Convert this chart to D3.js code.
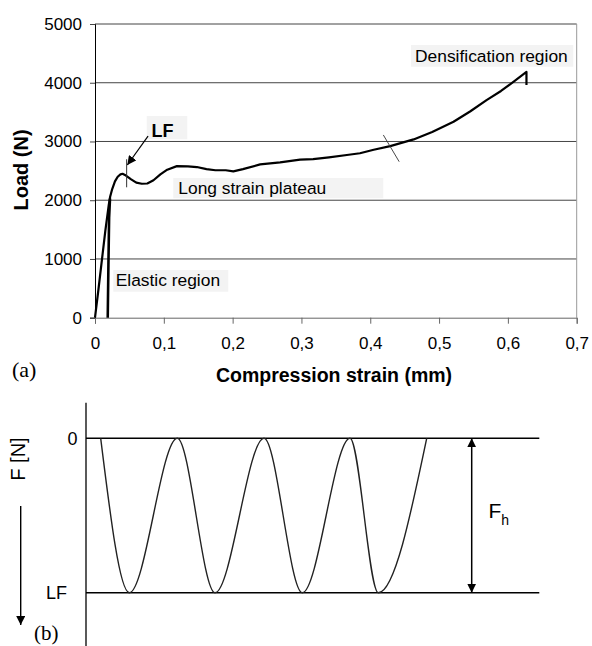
<!DOCTYPE html>
<html>
<head>
<meta charset="utf-8">
<script src="https://cdn.jsdelivr.net/npm/d3@7"></script>
<style>
    body { margin: 0; background: #fff; }
    text { font-family: "Liberation Sans", Arial, sans-serif; fill: #000; }
    .serif { font-family: "Liberation Serif", "Times New Roman", serif; }
</style>
</head>
<body>
<div id="chart"></div>
<script>

// ---- panel (a): load vs compression strain ----
const strain = [0, 0.005, 0.010, 0.015, 0.020, 0.022, 0.025, 0.029, 0.033, 0.037, 0.040, 0.045, 0.052, 0.060,
    0.068, 0.076, 0.085, 0.095, 0.105, 0.119, 0.135, 0.148, 0.162, 0.175, 0.190, 0.201, 0.215, 0.240, 0.269,
    0.298, 0.317, 0.340, 0.366, 0.385, 0.405, 0.429, 0.463, 0.490, 0.521, 0.545, 0.569, 0.590, 0.608, 0.627, 0.627];
const load = [0, 480, 980, 1480, 1920, 2060, 2190, 2320, 2400, 2440, 2450, 2420, 2360, 2300,
    2280, 2285, 2340, 2440, 2520, 2580, 2575, 2565, 2530, 2510, 2510, 2490, 2530, 2610, 2645,
    2690, 2700, 2730, 2770, 2800, 2860, 2920, 3035, 3160, 3335, 3510, 3705, 3860, 4015, 4185, 3960];

// second (unloading) trace near the origin
const unloadStrain = [0.0185, 0.0195, 0.0205, 0.0218];
const unloadLoad = [0, 900, 1700, 2030];

const loadTicks = [0, 1000, 2000, 3000, 4000, 5000];
const strainTicks = [0, 0.1, 0.2, 0.3, 0.4, 0.5, 0.6, 0.7];
const strainTickLabels = ["0", "0,1", "0,2", "0,3", "0,4", "0,5", "0,6", "0,7"];

// ---- panel (b): cyclic loading between 0 and LF ----
const cycleTime = [0.147, 0.433, 0.913, 1.290, 1.780, 2.163, 2.640, 2.923, 3.407];
const cycleForce = [0, 1, 0, 1, 0, 1, 0, 1, 0];
const forceTicks = [0, 1];
const forceTickLabels = ["0", "LF"];


let svg = d3.select("#chart").append("svg")
    .attr("width", 592)
    .attr("height", 646)
    .style("display", "block");

svg.append("defs").append("marker")
    .attr("id", "head")
    .attr("viewBox", "0 0 10 10")
    .attr("refX", 10)
    .attr("refY", 5)
    .attr("markerWidth", 9)
    .attr("markerHeight", 9)
    .attr("markerUnits", "userSpaceOnUse")
    .attr("orient", "auto-start-reverse")
    .append("path")
    .attr("d", "M0,0 L10,5 L0,10 Z")
    .attr("fill", "#000");

/* * * * * panel (a) * * * * */

let x = d3.scaleLinear().domain([0, 0.7]).range([95, 576.7]);
let y = d3.scaleLinear().domain([0, 5000]).range([317.7, 24]);

let gA = svg.append("g");

// horizontal gridlines
gA.selectAll(".grid")
    .data(loadTicks.filter(d => d > 0))
    .enter().append("line")
    .attr("class", "grid")
    .attr("x1", x(0)).attr("x2", x(0.7))
    .attr("y1", d => y(d)).attr("y2", d => y(d))
    .attr("stroke", "#444")
    .attr("stroke-width", 1);

// right border
gA.append("line")
    .attr("x1", x(0.7)).attr("x2", x(0.7))
    .attr("y1", y(5000)).attr("y2", y(0))
    .attr("stroke", "#999");

// axes
let yAxis = d3.axisLeft(y).tickValues(loadTicks).tickSize(5).tickPadding(8)
    .tickFormat(d3.format("d"));
let yG = gA.append("g").attr("transform", `translate(${x(0)},0)`).call(yAxis);
yG.select(".domain").attr("stroke", "#000");
yG.selectAll(".tick line").attr("stroke", "#444");
yG.selectAll("text").style("font-size", "17px").style("font-family", "Liberation Sans, Arial, sans-serif");

let xAxis = d3.axisBottom(x).tickValues(strainTicks).tickSize(6).tickPadding(13)
    .tickFormat((d, i) => strainTickLabels[i]);
let xG = gA.append("g").attr("transform", `translate(0,${y(0)})`).call(xAxis);
xG.select(".domain").attr("stroke", "#666");
xG.selectAll(".tick line").attr("stroke", "#666");
xG.selectAll("text").style("font-size", "17px").style("font-family", "Liberation Sans, Arial, sans-serif");

// axis titles
gA.append("text")
    .attr("x", 334).attr("y", 382)
    .attr("text-anchor", "middle")
    .style("font-size", "19.5px").style("font-weight", "bold")
    .text("Compression strain (mm)");

gA.append("text")
    .attr("transform", "translate(28,170) rotate(-90)")
    .attr("text-anchor", "middle")
    .style("font-size", "20px").style("font-weight", "bold")
    .text("Load (N)");

gA.append("text")
    .attr("class", "serif")
    .attr("x", 12).attr("y", 377)
    .style("font-size", "22px")
    .text("(a)");

// annotation boxes
const notes = [
    {text: "LF", x0: 146.7, y0: 116, w: 40.6, h: 23.3, tx: 151.5, ty: 136.5, bold: true, size: 18},
    {text: "Long strain plateau", x0: 173.3, y0: 178, w: 210, h: 20.3, tx: 178.3, ty: 193.5, size: 17.4},
    {text: "Elastic region", x0: 113.3, y0: 270, w: 115, h: 21.7, tx: 115.7, ty: 286, size: 17.4},
    {text: "Densification region", x0: 411, y0: 45, w: 162.3, h: 21.7, tx: 415, ty: 62, size: 17.4}
];

let noteG = gA.selectAll(".note").data(notes).enter().append("g").attr("class", "note");
noteG.append("rect")
    .attr("x", d => d.x0).attr("y", d => d.y0)
    .attr("width", d => d.w).attr("height", d => d.h)
    .attr("fill", "#f3f3f3");
noteG.append("text")
    .attr("x", d => d.tx).attr("y", d => d.ty)
    .style("font-size", d => d.size + "px")
    .style("font-weight", d => d.bold ? "bold" : "normal")
    .text(d => d.text);

// curve
let line = d3.line().x(d => x(d[0])).y(d => y(d[1])).curve(d3.curveLinear);

gA.append("path")
    .datum(d3.zip(unloadStrain, unloadLoad))
    .attr("d", line)
    .attr("fill", "none")
    .attr("stroke", "#000")
    .attr("stroke-width", 2.6);

gA.append("path")
    .datum(d3.zip(strain, load))
    .attr("d", line)
    .attr("fill", "none")
    .attr("stroke", "#000")
    .attr("stroke-width", 2.2)
    .attr("stroke-linejoin", "round");

// LF marker tick and arrow
gA.append("line")
    .attr("x1", x(0.046)).attr("x2", x(0.046))
    .attr("y1", y(2697)).attr("y2", y(2220))
    .attr("stroke", "#333").attr("stroke-width", 1);

gA.append("line")
    .attr("x1", x(0.0771)).attr("y1", y(3090))
    .attr("x2", x(0.0470)).attr("y2", y(2600))
    .attr("stroke", "#000").attr("stroke-width", 1.2)
    .attr("marker-end", "url(#head)");

// slash marking the end of the plateau
gA.append("line")
    .attr("x1", x(0.419)).attr("y1", y(3111))
    .attr("x2", x(0.442)).attr("y2", y(2656))
    .attr("stroke", "#333").attr("stroke-width", 0.9);

/* * * * * panel (b) * * * * */

let t = d3.scaleLinear().domain([0, 4.533]).range([86, 539.3]);
let f = d3.scaleLinear().domain([0, 1]).range([438.3, 592.7]);

let gB = svg.append("g");

// vertical axis
gB.append("line")
    .attr("x1", t(0)).attr("x2", t(0))
    .attr("y1", 402.7).attr("y2", 646)
    .attr("stroke", "#000").attr("stroke-width", 1.3);

// levels 0 and LF
gB.selectAll(".level")
    .data(forceTicks)
    .enter().append("line")
    .attr("class", "level")
    .attr("x1", t(0)).attr("x2", t(4.533))
    .attr("y1", d => f(d)).attr("y2", d => f(d))
    .attr("stroke", "#000").attr("stroke-width", 1.5);

const forceLabelX = [77.5, 67];
gB.selectAll(".flabel")
    .data(forceTicks)
    .enter().append("text")
    .attr("class", "flabel")
    .attr("x", (d, i) => forceLabelX[i])
    .attr("y", d => f(d))
    .attr("dy", "0.36em")
    .attr("text-anchor", "end")
    .style("font-size", "18px")
    .text((d, i) => forceTickLabels[i]);

// wave
gB.append("path")
    .datum(d3.zip(cycleTime, cycleForce))
    .attr("d", d3.line().x(d => t(d[0])).y(d => f(d[1])).curve(d3.curveMonotoneX))
    .attr("fill", "none")
    .attr("stroke", "#222")
    .attr("stroke-width", 1.4);

// F_h double arrow
gB.append("line")
    .attr("x1", t(3.857)).attr("x2", t(3.857))
    .attr("y1", f(0)).attr("y2", f(1))
    .attr("stroke", "#000").attr("stroke-width", 1.5)
    .attr("marker-start", "url(#head)")
    .attr("marker-end", "url(#head)");

let fh = gB.append("text").attr("x", 488.5).attr("y", 517.5).style("font-size", "21px");
fh.append("tspan").text("F");
fh.append("tspan").attr("dy", 7).style("font-size", "14px").text("h");

// F [N] label with downward arrow
gB.append("text")
    .attr("transform", "translate(25,459) rotate(-90)")
    .attr("text-anchor", "middle")
    .style("font-size", "20px")
    .text("F [N]");

gB.append("line")
    .attr("x1", 20.7).attr("x2", 20.7)
    .attr("y1", 506).attr("y2", 625)
    .attr("stroke", "#000").attr("stroke-width", 1.4)
    .attr("marker-end", "url(#head)");

gB.append("text")
    .attr("class", "serif")
    .attr("x", 34).attr("y", 640)
    .style("font-size", "21px")
    .text("(b)");

</script>
</body>
</html>
